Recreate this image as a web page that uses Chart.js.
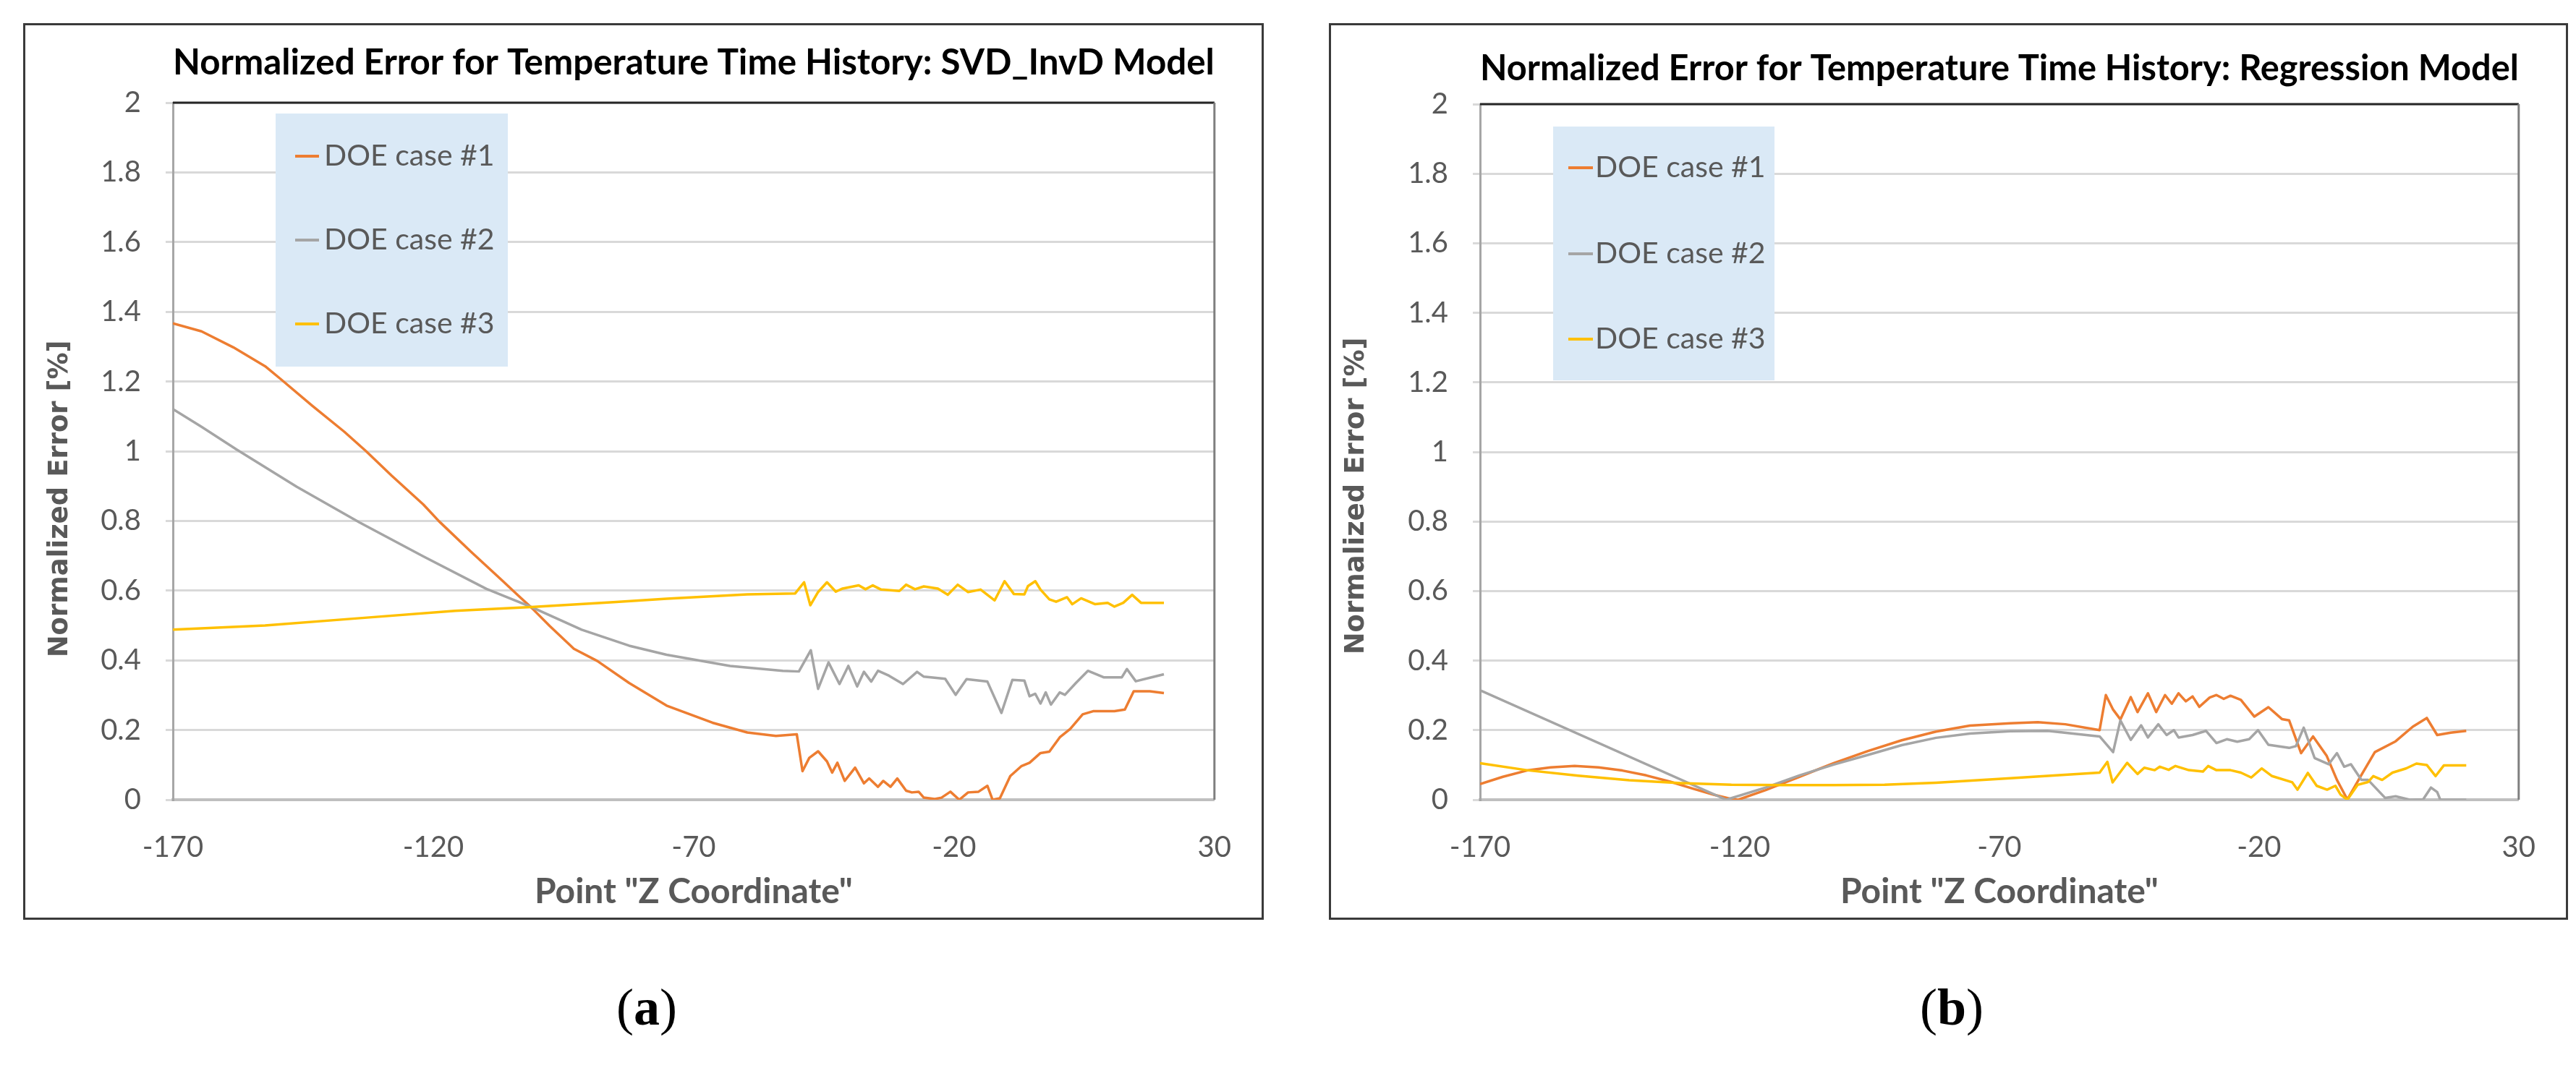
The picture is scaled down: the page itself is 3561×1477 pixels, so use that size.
<!DOCTYPE html>
<html lang="en">
<head>
<meta charset="UTF-8">
<title>Normalized Error for Temperature Time History</title>
<script src="https://cdn.jsdelivr.net/npm/chart.js@4"></script>
<style>
    html, body { margin: 0; padding: 0; background: #fff; }
    body { width: 3561px; height: 1477px; position: relative; overflow: hidden; }
    .panel { position: absolute; top: 32px; height: 1234px; border: 3px solid #3a3a3a; background: #fff; }
    #panelA { left: 32px; width: 1709px; }
    #panelB { left: 1837px; width: 1707px; }
    .panel canvas { display: block; }
    .caption { position: absolute; top: 1352px; width: 300px; text-align: center;
               font-family: 'Liberation Serif', 'DejaVu Serif', serif; font-size: 72px; color: #000; }
    .caption b { font-weight: bold; }
    #capA { left: 744px; }
    #capB { left: 2548px; }
</style>
</head>
<body>
    <div class="panel" id="panelA"><canvas id="chartA" width="1709" height="1234"></canvas></div>
    <div class="panel" id="panelB"><canvas id="chartB" width="1707" height="1234"></canvas></div>
    <div class="caption" id="capA">(<b>a</b>)</div>
    <div class="caption" id="capB">(<b>b</b>)</div>

<script>
// axis ticks
const xTicks = [-170, -120, -70, -20, 30];
const yTicks = [0, 0.2, 0.4, 0.6, 0.8, 1, 1.2, 1.4, 1.6, 1.8, 2];

const seriesNames = ['DOE case #1', 'DOE case #2', 'DOE case #3'];
const seriesColors = ['#ED7D31', '#A5A5A5', '#FFC000'];

// (a) SVD_InvD model
const zA1 = [-170, -164.5, -158.4, -152.3, -149.3, -143.2, -137.1, -132.9, -128, -121.9, -118.9, -112.8, -106.7, -103.7, -101,
    -97.6, -93, -88.5, -82.4, -75.2, -66.4, -59.7, -54.2, -50.2,
    -49.1, -47.8, -46.1, -44.4, -43.4, -42.4, -41, -39, -37.3, -36.3, -34.6, -33.6, -32.2, -30.9, -29.2, -28.1, -26.8, -25.8,
    -23.7, -22.4, -20.7, -19, -17.3, -15.3, -13.6, -12.6, -11.2, -9.2, -7.1, -5.5, -3.4, -1.7, 0.3, 2.3, 4.7, 6.7, 10.8, 12.8,
    14.5, 17.6, 20.3];
const errA1 = [1.367, 1.344, 1.298, 1.244, 1.207, 1.13, 1.056, 1, 0.93, 0.847, 0.799, 0.712, 0.628, 0.586, 0.549,
    0.498, 0.433, 0.398, 0.335, 0.27, 0.221, 0.193, 0.183, 0.188,
    0.082, 0.12, 0.139, 0.11, 0.078, 0.106, 0.054, 0.092, 0.047, 0.061, 0.037, 0.054, 0.037, 0.061, 0.026, 0.021, 0.023, 0.006,
    0.002, 0.006, 0.023, 0, 0.021, 0.023, 0.04, 0, 0.004, 0.068, 0.096, 0.106, 0.134, 0.138, 0.179, 0.203, 0.245, 0.254, 0.254, 0.259,
    0.311, 0.311, 0.306];

const zA2 = [-170, -164.5, -157.8, -146.2, -134.1, -121.9, -109.8, -101.2, -91.5, -82.4, -75.2, -63, -52.9, -49.8,
    -47.5, -46.1, -44.1, -42, -40.3, -38.6, -37.3,
    -35.9, -34.6, -32.5, -29.8, -27.1, -25.8, -21.7, -19.7, -17.6, -13.6, -10.9, -8.8, -6.5, -5.5, -4.4, -3.4, -2.4, -1.4, 0.3,
    1.3, 3.4, 5.7, 8.8, 12.2, 13.2, 14.9, 17.9, 20.3];
const errA2 = [1.121, 1.07, 1.005, 0.898, 0.795, 0.698, 0.605, 0.553, 0.488, 0.442, 0.416, 0.384, 0.37, 0.368,
    0.429, 0.318, 0.394, 0.332, 0.384, 0.325, 0.367,
    0.339, 0.37, 0.356, 0.332, 0.367, 0.353, 0.347, 0.301, 0.346, 0.339, 0.249, 0.344, 0.342, 0.297, 0.304, 0.276, 0.308, 0.273, 0.308,
    0.301, 0.335, 0.37, 0.351, 0.351, 0.375, 0.34, 0.351, 0.36];

const zA3 = [-170, -152.3, -134.1, -115.8, -101.2, -85.4, -75.2, -59.7, -50.5, -48.8, -47.6, -46.1, -44.4, -42.7, -41.4, -38.3,
    -37, -35.6, -34,
    -30.5, -29.2, -27.5, -25.8, -23.1, -21.2, -19.3, -17.3, -14.9, -12.2, -10.3, -8.5, -6.5, -5.8, -4.4, -3.4, -1.7, -0.4, 1.7,
    2.7, 4.4, 7.1, 9.5, 10.8, 12.5, 14.2, 15.9, 20.3];
const errA3 = [0.488, 0.5, 0.521, 0.542, 0.553, 0.567, 0.577, 0.589, 0.592, 0.624, 0.558, 0.596, 0.624, 0.597, 0.606, 0.615,
    0.604, 0.615, 0.603,
    0.599, 0.617, 0.604, 0.612, 0.606, 0.588, 0.617, 0.596, 0.603, 0.572, 0.627, 0.59, 0.589, 0.613, 0.627, 0.603, 0.575, 0.568, 0.581,
    0.561, 0.578, 0.561, 0.565, 0.554, 0.565, 0.588, 0.565, 0.565];

// (b) Regression model
const zB1 = [-170, -165.6, -161, -156.4, -151.8, -147.2, -142.6, -138, -133.4, -128.8, -124.9, -121.9, -120.3, -115, -108.5,
    -101.9, -95.3, -88.8, -82.2, -75.7, -67.9, -62.6, -57.3, -50.7,
    -49.5, -48.1, -46.7, -44.7, -43.4, -41.4, -39.8, -38.1, -36.8, -35.5, -34.1, -32.8, -31.5, -29.5, -28.2, -26.8, -25.5, -23.5,
    -20.9, -18.2, -15.6, -14.2, -11.9, -9.6, -7, -5, -3, -0.3, 2.3, 6.3, 9.6, 12.3, 14.3, 16.9, 19.9];
const errB1 = [0.045, 0.066, 0.084, 0.093, 0.097, 0.093, 0.084, 0.07, 0.052, 0.031, 0.014, 0.003, 0, 0.028, 0.066,
    0.105, 0.14, 0.171, 0.196, 0.213, 0.22, 0.223, 0.217, 0.2,
    0.301, 0.259, 0.231, 0.295, 0.252, 0.306, 0.252, 0.301, 0.276, 0.306, 0.283, 0.297, 0.267, 0.294, 0.301, 0.29, 0.299, 0.287,
    0.239, 0.266, 0.232, 0.228, 0.134, 0.182, 0.127, 0.057, 0.001, 0.071, 0.137, 0.168, 0.21, 0.235, 0.186, 0.193, 0.198];

const zB2 = [-170, -122.6, -115, -108.5, -101.9, -95.3, -88.8, -82.2, -75.7, -67.9, -60.7, -50.7, -48.1, -46.7, -44.7, -42.7,
    -41.4, -39.4, -37.8,
    -36.4, -35.5, -32.8, -30.2, -28.2, -26.2, -24.2, -21.9, -20.2, -18.2, -14.2, -12.9, -11.4, -9.3, -6.6, -5, -3.6, -2.3, -0.3,
    1, 4.3, 6.3, 9, 11.6, 13.1, 14.3, 14.9, 19.9];
const errB2 = [0.315, 0, 0.035, 0.07, 0.101, 0.129, 0.157, 0.178, 0.19, 0.197, 0.198, 0.182, 0.137, 0.228, 0.172, 0.214,
    0.179, 0.217, 0.186,
    0.2, 0.179, 0.186, 0.198, 0.163, 0.174, 0.167, 0.174, 0.2, 0.158, 0.149, 0.154, 0.207, 0.12, 0.102, 0.134, 0.095, 0.102, 0.057,
    0.057, 0.005, 0.01, 0, 0.001, 0.035, 0.022, 0, 0];

const zB3 = [-170, -161, -151.1, -141.3, -131.4, -121.6, -111.7, -101.9, -92.1, -82.2, -67.9, -50.7, -49.2, -48.2, -45.4,
    -43.4, -42.1, -40.1, -39.1, -37.4,
    -36.1, -33.5, -30.8, -29.8, -28.2, -25.5, -23.5, -21.5, -19.5, -17.5, -13.6, -12.6, -10.6, -8.9, -6.9, -5.3, -4.3, -3, -1,
    1, 2, 3.7, 5.7, 8.3, 10.3, 12.3, 14, 15.6, 19.9];
const errB3 = [0.105, 0.085, 0.069, 0.056, 0.048, 0.043, 0.042, 0.042, 0.043, 0.049, 0.062, 0.078, 0.109, 0.05, 0.106,
    0.074, 0.092, 0.085, 0.095, 0.086,
    0.097, 0.085, 0.081, 0.097, 0.085, 0.085, 0.078, 0.064, 0.09, 0.068, 0.05, 0.029, 0.077, 0.04, 0.029, 0.04, 0.015, 0, 0.043,
    0.051, 0.068, 0.057, 0.078, 0.09, 0.104, 0.1, 0.068, 0.099, 0.099];

const gray = '#595959';

// top and right edge of the plot area
const plotFrame = {
    id: 'plotFrame',
    afterDatasetsDraw(chart) {
        const { ctx, chartArea: a } = chart;
        ctx.save();
        ctx.lineWidth = 3;
        ctx.strokeStyle = '#262626';
        ctx.beginPath(); ctx.moveTo(a.left, a.top); ctx.lineTo(a.right, a.top); ctx.stroke();
        ctx.strokeStyle = '#7f7f7f';
        ctx.beginPath(); ctx.moveTo(a.right, a.top); ctx.lineTo(a.right, a.bottom); ctx.stroke();
        ctx.restore();
    }
};

// rotated y title, placed like the Excel one (a bit below the middle)
const sideTitle = {
    id: 'sideTitle',
    afterDraw(chart, args, o) {
        const ctx = chart.ctx;
        ctx.save();
        ctx.translate(o.x, o.y);
        ctx.rotate(-Math.PI / 2);
        ctx.font = 'bold 37px "DejaVu Sans"';
        ctx.fillStyle = gray;
        ctx.textAlign = 'center';
        ctx.textBaseline = 'middle';
        ctx.fillText(o.text, 0, 0);
        ctx.restore();
    }
};

// legend in a light blue box inside the plot
const boxLegend = {
    id: 'boxLegend',
    afterDatasetsDraw(chart, args, o) {
        const { ctx, chartArea: a } = chart;
        const bx = a.left + o.x, by = a.top + o.y;
        ctx.save();
        ctx.fillStyle = '#DAE9F6';
        ctx.fillRect(bx, by, o.w, o.h);
        ctx.font = '41px Lato';
        ctx.textBaseline = 'middle';
        ctx.textAlign = 'left';
        chart.data.datasets.forEach((ds, i) => {
            const ly = by + o.rows[i];
            ctx.strokeStyle = ds.borderColor;
            ctx.lineWidth = 4;
            ctx.beginPath(); ctx.moveTo(bx + o.lineFrom, ly); ctx.lineTo(bx + o.lineTo, ly); ctx.stroke();
            ctx.fillStyle = gray;
            ctx.fillText(ds.label, bx + o.textX, ly);
        });
        ctx.restore();
    }
};

function series(zs, errs, i) {
    return {
        label: seriesNames[i],
        data: zs.map((z, k) => ({ x: z, y: errs[k] })),
        borderColor: seriesColors[i],
        borderWidth: 3.5,
        borderJoinStyle: 'round',
        pointRadius: 0,
        fill: false,
        tension: 0,
        order: 3 - i
    };
}

function makeChart(id, cfg) {
    return new Chart(document.getElementById(id), {
        type: 'line',
        data: { datasets: cfg.sets },
        plugins: [plotFrame, sideTitle, boxLegend],
        options: {
            responsive: false,
            animation: false,
            devicePixelRatio: 1,
            layout: { padding: { left: 0, right: cfg.padRight, top: 0, bottom: 0 } },
            plugins: {
                legend: { display: false },
                tooltip: { enabled: false },
                title: {
                    display: true,
                    text: cfg.title,
                    fullSize: false,
                    color: '#000',
                    font: { family: 'Lato', size: 50, weight: 'bold', lineHeight: 1.2 },
                    padding: { top: cfg.titleTop, bottom: cfg.plotTop - cfg.titleTop - 60 }
                },
                sideTitle: { text: 'Normalized Error [%]', x: cfg.yTitleX, y: cfg.yTitleY },
                boxLegend: cfg.legend
            },
            scales: {
                x: {
                    type: 'linear',
                    min: -170,
                    max: 30,
                    afterBuildTicks: s => { s.ticks = xTicks.map(v => ({ value: v })); },
                    afterFit: s => { s.height = 163; },
                    ticks: { color: gray, font: { family: 'Lato', size: 40 }, padding: 42, maxRotation: 0, autoSkip: false,
                             callback: v => String(v) },
                    grid: { display: false, drawTicks: false },
                    border: { display: true, color: '#BFBFBF', width: 4 },
                    title: { display: true, text: 'Point "Z Coordinate"', color: gray,
                             font: { family: 'Lato', size: 48, weight: 'bold', lineHeight: 1.2 }, padding: { top: 0, bottom: 7 } }
                },
                y: {
                    type: 'linear',
                    min: 0,
                    max: 2,
                    afterBuildTicks: s => { s.ticks = yTicks.map(v => ({ value: v })); },
                    afterFit: s => { s.width = cfg.plotLeft; },
                    ticks: { color: gray, font: { family: 'Lato', size: 40 }, padding: 34,
                             callback: v => String(Math.round(v * 10) / 10) },
                    grid: { color: '#D9D9D9', lineWidth: 3, tickLength: 10, drawTicks: true },
                    border: { display: true, color: '#A6A6A6', width: 3 }
                }
            }
        }
    });
}

makeChart('chartA', {
    title: 'Normalized Error for Temperature Time History: SVD_InvD Model',
    sets: [series(zA1, errA1, 0), series(zA2, errA2, 1), series(zA3, errA3, 2)],
    plotLeft: 204, padRight: 35, plotTop: 107, titleTop: 22,
    yTitleX: 48, yTitleY: 655,
    legend: { x: 142, y: 15, w: 321, h: 350, rows: [59, 175, 291], lineFrom: 27, lineTo: 60, textX: 67 }
});

makeChart('chartB', {
    title: 'Normalized Error for Temperature Time History: Regression Model',
    sets: [series(zB1, errB1, 0), series(zB2, errB2, 1), series(zB3, errB3, 2)],
    plotLeft: 206, padRight: 24, plotTop: 109, titleTop: 30,
    yTitleX: 35, yTitleY: 651,
    legend: { x: 101, y: 31, w: 306, h: 351, rows: [57, 176, 294], lineFrom: 21, lineTo: 55, textX: 58 }
});
</script>
</body>
</html>
